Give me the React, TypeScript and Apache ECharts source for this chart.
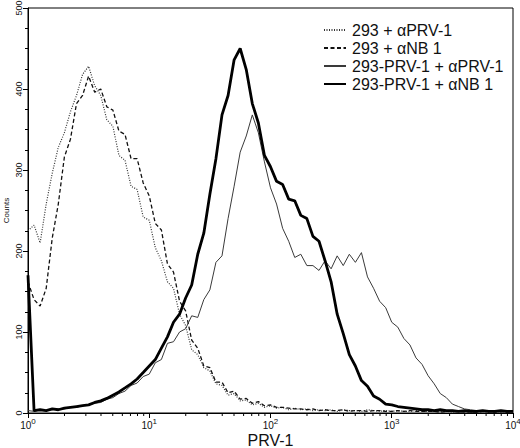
import React, { useEffect, useRef } from "react";
import * as echarts from "echarts";

// bin positions: 20 steps per decade (mantissas), 4 decades, plus 10^4
const MANTISSAS = [1, 1.122, 1.259, 1.413, 1.585, 1.778, 1.995, 2.239, 2.512, 2.818, 3.162, 3.548, 3.981, 4.467, 5.012, 5.623, 6.31, 7.079, 7.943, 8.913];
const DECADES = [1, 10, 100, 1000];
const X_MAX = 10000;

const SERIES_NAMES = ["293 + αPRV-1", "293 + αNB 1", "293-PRV-1 + αPRV-1", "293-PRV-1 + αNB 1"];

const ctrlPRV = [225, 232, 210, 258, 296, 328, 346, 372, 392, 418, 428, 404, 392, 362, 354, 318, 312, 280, 276, 242,
  238, 204, 188, 162, 154, 122, 108, 78, 72, 56, 52, 36, 34, 22, 24, 15, 16, 10, 12, 7,
  9, 6, 7, 4, 6, 4, 5, 3, 4, 3, 4, 2, 4, 3, 3, 2, 4, 3, 2, 3,
  2, 3, 2, 2, 3, 2, 2, 3, 2, 2, 1, 2, 2, 1, 2, 2, 1, 2, 1, 2, 2];

const ctrlNB = [162, 140, 132, 154, 216, 258, 316, 338, 382, 392, 416, 396, 400, 378, 374, 348, 344, 314, 314, 284,
  268, 234, 226, 184, 174, 138, 126, 90, 80, 58, 56, 38, 38, 25, 27, 17, 18, 12, 14, 9,
  10, 7, 7, 6, 5, 5, 4, 5, 3, 4, 3, 3, 4, 2, 3, 3, 2, 3, 3, 2,
  2, 3, 2, 3, 2, 2, 2, 2, 1, 2, 2, 2, 1, 2, 1, 2, 2, 1, 2, 1, 2];

const prvPRV = [3, 2, 4, 3, 4, 5, 5, 7, 7, 9, 10, 12, 13, 17, 19, 24, 27, 34, 37, 45,
  48, 62, 66, 86, 88, 100, 104, 120, 118, 140, 152, 186, 194, 240, 280, 322, 342, 368, 346, 310,
  278, 258, 228, 212, 192, 196, 182, 182, 176, 188, 178, 194, 182, 196, 186, 198, 168, 154, 138, 130,
  112, 106, 92, 84, 68, 60, 46, 36, 24, 19, 11, 8, 5, 4, 3, 3, 2, 3, 2, 2, 1];

const prvNB = [170, 3, 4, 3, 5, 4, 6, 7, 8, 9, 10, 13, 15, 18, 22, 26, 31, 36, 42, 50,
  58, 66, 80, 94, 112, 122, 142, 158, 196, 222, 270, 314, 368, 392, 436, 450, 424, 382, 358, 318,
  304, 286, 282, 264, 262, 244, 240, 218, 212, 188, 162, 122, 98, 72, 58, 40, 33, 21, 17, 11,
  10, 8, 7, 6, 5, 4, 4, 3, 4, 3, 3, 2, 3, 2, 2, 3, 2, 2, 3, 2, 2];

const MINOR_STEPS = [2, 3, 4, 5, 6, 7, 8, 9];
const X_LABELS: Record<number, string> = { 1: "0", 10: "1", 100: "2", 1000: "3", 10000: "4" };

const FONT = "'Liberation Sans', Arial, sans-serif";

export default function App() {
  const ref = useRef<HTMLDivElement>(null);
  useEffect(() => {
    if (!ref.current) return;
    const chart = echarts.init(ref.current, undefined, { renderer: "svg" });
    const bins: number[] = [];
    DECADES.forEach((d) => MANTISSAS.forEach((m) => bins.push(+(d * m).toFixed(3))));
    bins.push(X_MAX);
    const pairs = (vals: number[]) => vals.map((v, i) => [bins[i], v]);
    const minorTicks: number[][] = [];
    DECADES.forEach((d) => MINOR_STEPS.forEach((s) => minorTicks.push([d * s, 0])));

    const styles = [
      { color: "#333", width: 1.2, type: [1, 1.5] as any },
      { color: "#111", width: 1.3, type: [4, 2.5] as any },
      { color: "#3a3a3a", width: 1, type: "solid" as any },
      { color: "#000", width: 2.8, type: "solid" as any },
    ];
    const datas = [ctrlPRV, ctrlNB, prvPRV, prvNB];

    chart.setOption({
      animation: false,
      backgroundColor: "#fff",
      grid: {
        left: 28, right: 7, top: 8, bottom: 35,
        outerBoundsMode: "none",
        containLabel: false,
        show: true, borderColor: "#000", borderWidth: 1, backgroundColor: "transparent",
      },
      legend: {
        orient: "vertical",
        left: 318,
        top: 17,
        itemWidth: 22,
        itemHeight: 12,
        itemGap: 2,
        data: SERIES_NAMES,
        selectedMode: false,
        itemStyle: { color: "transparent", borderColor: "transparent", borderWidth: 0, opacity: 0 },
        textStyle: { fontFamily: FONT, fontSize: 16, color: "#111", padding: [0, 0, 0, 1] },
      },
      xAxis: {
        type: "log",
        logBase: 10,
        min: 1,
        max: X_MAX,
        name: "PRV-1",
        nameLocation: "middle",
        nameGap: 19,
        nameMoveOverlap: false,
        nameTextStyle: { fontFamily: FONT, fontSize: 16, color: "#111", verticalAlign: "top", lineHeight: 16 },
        axisLine: { lineStyle: { color: "#000", width: 1 } },
        axisTick: { show: true, length: 5, lineStyle: { color: "#000" } },
        splitLine: { show: false },
        axisLabel: {
          margin: 4,
          formatter: (v: number) => `{b|10}{s|${X_LABELS[Math.round(v)] ?? ""}}`,
          rich: {
            b: { fontFamily: FONT, fontSize: 10, color: "#111", verticalAlign: "bottom" },
            s: { fontFamily: FONT, fontSize: 8, color: "#111", verticalAlign: "bottom", padding: [0, 0, 5, 0] },
          },
        },
      },
      yAxis: {
        type: "value",
        min: 0,
        max: 500,
        interval: 100,
        name: "Counts",
        nameLocation: "middle",
        nameGap: 18,
        nameMoveOverlap: false,
        nameRotate: 90,
        nameTextStyle: { fontFamily: FONT, fontSize: 8, color: "#111" },
        axisLine: { show: true, lineStyle: { color: "#000", width: 1 } },
        axisTick: { show: true, length: 5, lineStyle: { color: "#000" } },
        minorTick: { show: true, splitNumber: 4, length: 3, lineStyle: { color: "#000" } },
        splitLine: { show: false },
        axisLabel: { rotate: 90, margin: 5, fontFamily: FONT, fontSize: 9, color: "#111" },
      },
      series: [
        ...SERIES_NAMES.map((name, k) => ({
          name,
          type: "line",
          data: pairs(datas[k]),
          showSymbol: false,
          symbol: "none",
          lineStyle: styles[k],
          itemStyle: { color: styles[k].color },
          z: k === 3 ? 4 : 3,
        })),
        {
          type: "custom",
          silent: true,
          clip: false,
          data: minorTicks,
          encode: { x: 0, y: 1 },
          renderItem: (_p: any, api: any) => {
            const pt = api.coord([api.value(0), 0]);
            return {
              type: "line",
              shape: { x1: pt[0], y1: pt[1], x2: pt[0], y2: pt[1] + 3 },
              style: { stroke: "#000", lineWidth: 1 },
            };
          },
        },
      ],
    });
    return () => chart.dispose();
  }, []);
  return <div ref={ref} style={{ position: "fixed", left: 0, top: 0, width: 520, height: 448 }} />;
}
